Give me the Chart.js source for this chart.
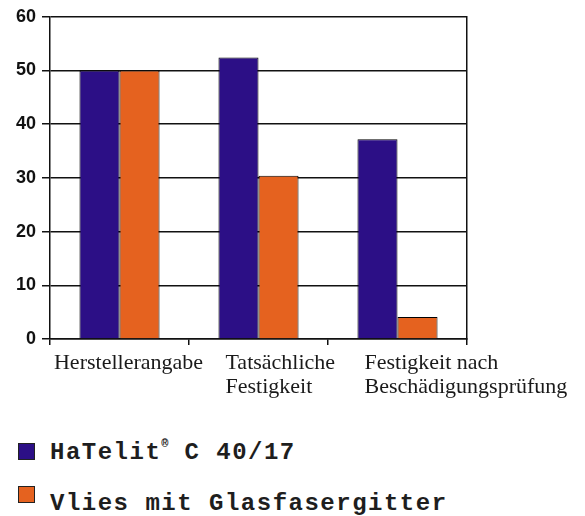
<!DOCTYPE html>
<html>
<head>
<meta charset="utf-8">
<script src="https://cdn.jsdelivr.net/npm/chart.js@4"></script>
<style>
  body { margin: 0; background: #fff; }
  #wrap { position: relative; width: 585px; height: 516px; }
  #box { position: absolute; left: 0; top: 0; width: 585px; height: 420px; }
  .leg { position: absolute; left: 18px; font: bold 24px "Liberation Mono", "DejaVu Sans Mono", monospace; letter-spacing: 1.5px; color: #1e1e1e; white-space: nowrap; }
  .leg i { position: absolute; left: 0; width: 17px; height: 17px; border: 1px solid #222; box-sizing: border-box; }
  .leg span { position: absolute; left: 32px; }
  .leg sup { font-size: 12px; letter-spacing: 0; position: relative; top: -3px; color: #1e1e1e; }
</style>
</head>
<body>
<div id="wrap">
  <div id="box"><canvas id="myChart"></canvas></div>
  <div class="leg" style="top:443px"><i style="background:#2c0f86;top:0px"></i><span style="top:-4px">HaTelit<sup>®</sup> C 40/17</span></div>
  <div class="leg" style="top:486px"><i style="background:#e5621f;top:0px"></i><span style="top:4px">Vlies mit Glasfasergitter</span></div>
</div>
<script>
// Kategorien (mehrzeilig)
let labels = [['Herstellerangabe'], ['Tatsächliche', 'Festigkeit'], ['Festigkeit nach', 'Beschädigungsprüfung']];
let labelAlign = ['center', 'left', 'left'];
let hatelit = [50, 52.4, 37.2];
let vlies = [50, 30.4, 4.1];
let yTicks = [0, 10, 20, 30, 40, 50, 60];

let catPct = 0.576;

// x-Beschriftung selbst zeichnen (links-/mittig ausgerichtet wie im Original)
let xLabels = {
    id: 'xLabels',
    afterDraw: (chart) => {
        let ctx = chart.ctx;
        let sx = chart.scales.x;
        let bottom = chart.chartArea.bottom;
        let catW = (sx.right - sx.left) / labels.length;
        ctx.save();
        ctx.font = '22px "Liberation Serif", "Times New Roman", serif';
        ctx.fillStyle = '#1a1a1a';
        ctx.textBaseline = 'alphabetic';
        labels.forEach((lines, i) => {
            let px = sx.getPixelForValue(i);
            let x = px;
            if (labelAlign[i] == 'left') {
                x = px - catW * catPct / 2 + 7;
                ctx.textAlign = 'left';
            } else {
                x = px + 9;
                ctx.textAlign = 'center';
            }
            lines.forEach((t, j) => {
                ctx.fillText(t, x, bottom + 30 + j * 24);
            });
        });
        ctx.restore();
    }
};

let ctx = document.getElementById('myChart').getContext('2d');
let chart = new Chart(ctx, {
    type: 'bar',
    data: {
        labels: labels,
        datasets: [{
            label: 'HaTelit® C 40/17',
            backgroundColor: '#2c0f86',
            borderColor: '#000',
            borderWidth: 1,
            data: hatelit
        }, {
            label: 'Vlies mit Glasfasergitter',
            backgroundColor: '#e5621f',
            borderColor: '#000',
            borderWidth: 1,
            data: vlies
        }]
    },
    options: {
        responsive: true,
        maintainAspectRatio: false,
        animation: false,
        layout: { padding: { left: 0, top: 15, right: 118, bottom: 75 } },
        datasets: { bar: { categoryPercentage: catPct, barPercentage: 1.0 } },
        plugins: {
            legend: { display: false },
            tooltip: { enabled: false }
        },
        scales: {
            x: {
                grid: { offset: true, drawOnChartArea: false, color: '#111', lineWidth: 1.5, tickLength: 6 },
                border: { color: '#111', width: 1.5 },
                ticks: { display: false },
                afterFit: (s) => { s.height = 6; }
            },
            y: {
                min: 0,
                max: 60,
                afterBuildTicks: (s) => { s.ticks = yTicks.map(v => ({ value: v })); },
                grid: { color: '#111', lineWidth: 1.5, tickLength: 8 },
                border: { color: '#111', width: 1.5 },
                ticks: {
                    padding: 6,
                    color: '#111',
                    font: { family: '"Liberation Sans", Arial, sans-serif', size: 18, weight: 'bold' }
                },
                afterFit: (s) => { s.width = 50; }
            },
            y2: {
                position: 'right',
                min: 0,
                max: 60,
                grid: { display: false },
                border: { color: '#111', width: 1.5 },
                ticks: { display: false },
                afterFit: (s) => { s.width = 0; }
            }
        }
    },
    plugins: [xLabels]
});
</script>
</body>
</html>
